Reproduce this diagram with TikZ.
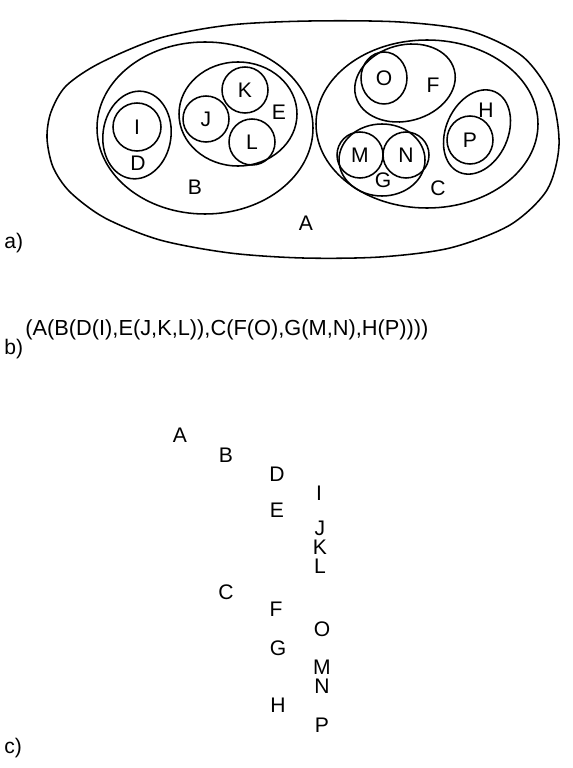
\documentclass[tikz,border=0pt]{standalone}
\usepackage{fontspec}
\setmainfont{Liberation Sans}

\begin{document}
\begin{tikzpicture}[
        x=0.025cm, y=-0.025cm,
        set/.style={
            line width=1.1pt
        },
        lbl/.style={
            inner sep=0pt,
            font=\fontsize{15}{18}\selectfont
        },
        part/.style={
            inner sep=0pt,
            anchor=west,
            font=\fontsize{15}{18}\selectfont
        }
    ]
    \useasboundingbox (0,0) rectangle (572,768);

    % a) nested sets
    \draw[set] plot[smooth cycle] coordinates {
        (47,138) (51,112) (66,86) (100,63) (160,38) (230,25) (310,21) (400,22)
        (470,31) (522,56) (551,96) (559,145) (547,190) (510,225)
        (450,248) (380,257) (303,258) (230,253) (160,240) (105,218) (70,192) (53,167)};
    \draw[set] (205,128) ellipse [x radius=108, y radius=86];
    \draw[set, rotate around={-8:(137,135)}] (137,135) ellipse [x radius=34, y radius=44];
    \draw[set] (137,127) circle [radius=24];
    \draw[set] (238,114) ellipse [x radius=59, y radius=52];
    \draw[set] (206,119) circle [radius=23];
    \draw[set] (245,90) circle [radius=23];
    \draw[set] (252,142) circle [radius=23];

    \draw[set] (427,124) ellipse [x radius=111, y radius=84];
    \draw[set, rotate around={15:(405,83)}] (405,83) ellipse [x radius=51, y radius=38];
    \draw[set] (384,78) ellipse [x radius=23, y radius=26];
    \draw[set] (382,160) ellipse [x radius=43, y radius=36];
    \draw[set] (360,155) circle [radius=23];
    \draw[set] (406,155) circle [radius=23];
    \draw[set, rotate around={66:(477,132)}] (477,132) ellipse [x radius=44, y radius=31];
    \draw[set] (470,140) ellipse [x radius=23, y radius=24];

    \node[lbl] (aA) at (306,223) {A};
    \node[lbl] (aB) at (195,187) {B};
    \node[lbl] (aC) at (438,188) {C};
    \node[lbl] (aD) at (138,163) {D};
    \node[lbl] (aE) at (279,112) {E};
    \node[lbl] (aF) at (433,85) {F};
    \node[lbl] (aG) at (383,180) {G};
    \node[lbl] (aH) at (486,110) {H};
    \node[lbl] (aI) at (137,127) {I};
    \node[lbl] (aJ) at (206,119) {J};
    \node[lbl] (aK) at (245,90) {K};
    \node[lbl] (aL) at (252,142) {L};
    \node[lbl] (aM) at (360,155) {M};
    \node[lbl] (aN) at (406,155) {N};
    \node[lbl] (aO) at (384,78) {O};
    \node[lbl] (aP) at (470,140) {P};

    \node[part] (capA) at (4,243) {a)};

    % b) bracket form
    \node[part, font=\fontsize{15.5}{18}\selectfont] (term) at (25,330) {(A(B(D(I),E(J,K,L)),C(F(O),G(M,N),H(P))))};
    \node[part] (capB) at (4,349) {b)};

    % c) indented list
    \node[lbl] (cA) at (180,435) {A};
    \node[lbl] (cB) at (226,455) {B};
    \node[lbl] (cD) at (277,474) {D};
    \node[lbl] (cI) at (319,493) {I};
    \node[lbl] (cE) at (277,510) {E};
    \node[lbl] (cJ) at (320,528) {J};
    \node[lbl] (cK) at (320,547) {K};
    \node[lbl] (cL) at (320,566) {L};
    \node[lbl] (cC) at (226,592) {C};
    \node[lbl] (cF) at (276,609) {F};
    \node[lbl] (cO) at (322,629) {O};
    \node[lbl] (cG) at (278,648) {G};
    \node[lbl] (cM) at (322,667) {M};
    \node[lbl] (cN) at (322,686) {N};
    \node[lbl] (cH) at (278,705) {H};
    \node[lbl] (cP) at (322,725) {P};

    \node[part] (capC) at (4,748) {c)};

\end{tikzpicture}
\end{document}
